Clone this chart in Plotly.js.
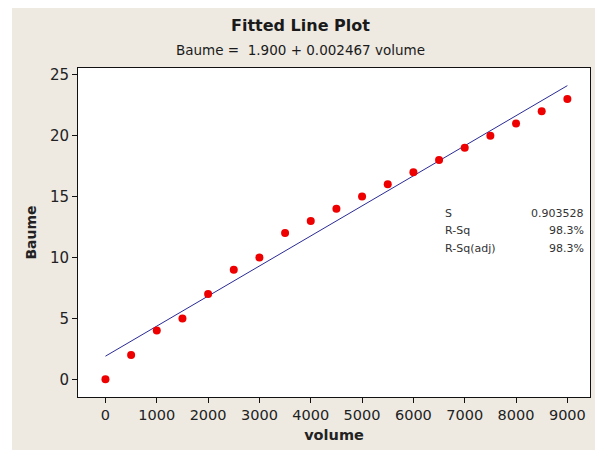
<!DOCTYPE html>
<html>
<head>
<meta charset="utf-8">
<script src="https://cdn.plot.ly/plotly-3.0.1.min.js"></script>
<style>
  html, body { margin: 0; padding: 0; background: #ffffff; width: 595px; height: 450px; overflow: hidden; }
  #chart { position: absolute; left: 12px; top: 8px; width: 583px; height: 442px; }
</style>
</head>
<body>
<div id="chart"></div>
<script>
// Data
const volume = [0, 500, 1000, 1500, 2000, 2500, 3000, 3500, 4000, 4500, 5000, 5500, 6000, 6500, 7000, 7500, 8000, 8500, 9000];
const baume  = [0, 2, 4, 5, 7, 9, 10, 12, 13, 14, 15, 16, 17, 18, 19, 20, 21, 22, 23];
const intercept = 1.900;
const slope = 0.002467;
const fitX = [0, 9000];
const statLabels = ["S", "R-Sq", "R-Sq(adj)"];
const statValues = ["0.903528", "98.3%", "98.3%"];
const xTicks = [0, 1000, 2000, 3000, 4000, 5000, 6000, 7000, 8000, 9000];
const yTicks = [0, 5, 10, 15, 20, 25];

const fitY = fitX.map(v => intercept + slope * v);

const font = "DejaVu Sans, Verdana, sans-serif";

const traces = [
  {
    x: fitX, y: fitY, type: "scatter", mode: "lines",
    line: { color: "#2a2a96", width: 1 },
    hoverinfo: "skip", showlegend: false
  },
  {
    x: volume, y: baume, type: "scatter", mode: "markers",
    marker: { color: "#ee0000", size: 8, symbol: "circle" },
    showlegend: false
  }
];

const annotations = [
  { text: "<b>Fitted Line Plot</b>", xref: "paper", yref: "paper", x: 0.4355, y: 1.128,
    xanchor: "center", yanchor: "middle", showarrow: false,
    font: { family: font, size: 16, color: "#1a1a1a" } },
  { text: "Baume =  1.900 + 0.002467 volume", xref: "paper", yref: "paper", x: 0.4355, y: 1.0547,
    xanchor: "center", yanchor: "middle", showarrow: false,
    font: { family: font, size: 13.5, color: "#1a1a1a" } }
];
const rowY = [0.5585, 0.505, 0.451];
statLabels.forEach((t, i) => {
  annotations.push({ text: t, xref: "paper", yref: "paper", x: 0.713, y: rowY[i],
    xanchor: "left", yanchor: "middle", showarrow: false,
    font: { family: font, size: 11, color: "#333333" } });
  annotations.push({ text: statValues[i], xref: "paper", yref: "paper", x: 0.992, y: rowY[i],
    xanchor: "right", yanchor: "middle", showarrow: false,
    font: { family: font, size: 11, color: "#333333" } });
});

const layout = {
  width: 583, height: 442,
  margin: { l: 66, r: 5, t: 60, b: 53, pad: 0 },
  paper_bgcolor: "#eeeae2",
  plot_bgcolor: "#ffffff",
  showlegend: false,
  font: { family: font, color: "#222222" },
  xaxis: {
    range: [-535, 9441], tickvals: xTicks, ticktext: xTicks.map(String),
    ticks: "outside", ticklen: 5, tickcolor: "#111", tickwidth: 1,
    showgrid: false, zeroline: false,
    showline: true, linecolor: "#111", linewidth: 1, mirror: true,
    tickfont: { family: font, size: 14.5, color: "#222" },
    title: { text: "<b>volume</b>", font: { family: font, size: 14.5, color: "#222" }, standoff: 7 },
    automargin: false
  },
  yaxis: {
    range: [-1.45, 25.55], tickvals: yTicks, ticktext: yTicks.map(String),
    ticks: "outside", ticklen: 5, tickcolor: "#111", tickwidth: 1,
    showgrid: false, zeroline: false,
    showline: true, linecolor: "#111", linewidth: 1, mirror: true,
    tickfont: { family: font, size: 15, color: "#222" },
    title: { text: "<b>Baume</b>", font: { family: font, size: 14, color: "#222" }, standoff: 10 },
    automargin: false
  },
  annotations: annotations
};

Plotly.newPlot("chart", traces, layout, { displayModeBar: false, staticPlot: true });
</script>
</body>
</html>
